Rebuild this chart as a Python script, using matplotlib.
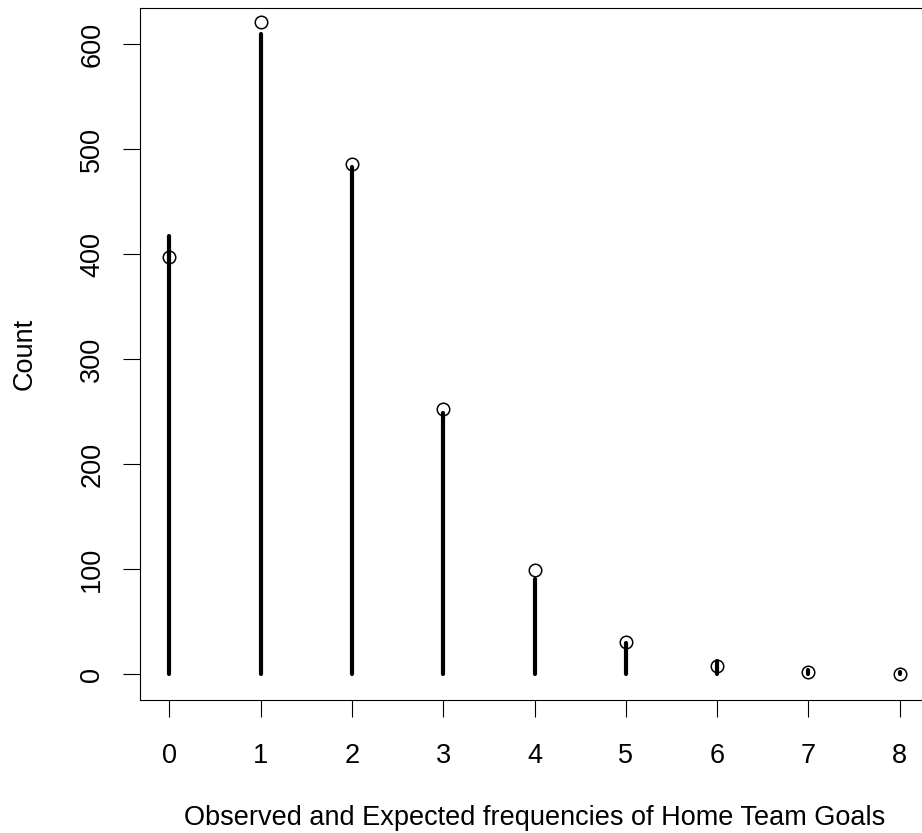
import matplotlib
matplotlib.use('agg')
import matplotlib.pyplot as plt

plt.rcParams['font.family'] = ['Liberation Sans', 'DejaVu Sans']

goals = [0, 1, 2, 3, 4, 5, 6, 7, 8]
observed = [417, 610, 483, 249, 91, 30, 13, 4, 2]
expected = [397, 621, 486, 253, 99, 31, 8.1, 1.8, 0.35]
xtick_labels = ['0', '1', '2', '3', '4', '5', '6', '7', '8']
yticks = [0, 100, 200, 300, 400, 500, 600]

W, H = 922, 833
fig = plt.figure(figsize=(W / 100, H / 100), dpi=100)
# plot box runs off the right edge, like the cropped original
ax = fig.add_axes([140 / W, (H - 700) / H, 789 / W, 692 / H])

ax.vlines(goals, 0, observed, colors='black', linewidth=3, capstyle='round')
ax.plot(goals, expected, 'o', markerfacecolor='none', markeredgecolor='black',
        markersize=9, markeredgewidth=1.1)

ax.set_xlim(-0.32, 8.32)
ax.set_ylim(-24.4, 634.4)
ax.set_xticks(goals)
ax.set_xticklabels(xtick_labels)
ax.set_yticks(yticks)
ax.set_yticklabels([str(v) for v in yticks], rotation=90, va='center')

for s in ax.spines.values():
    s.set_linewidth(0.8)
ax.tick_params(direction='out', length=12, width=0.8, labelsize=19.5)
ax.tick_params(axis='x', pad=19)
ax.tick_params(axis='y', pad=13)

ax.set_xlabel('Observed and Expected frequencies of Home Team Goals', fontsize=19.5, labelpad=26)
ax.set_ylabel('Count', fontsize=19.5, labelpad=30)

fig.savefig('out.png', dpi=100)
